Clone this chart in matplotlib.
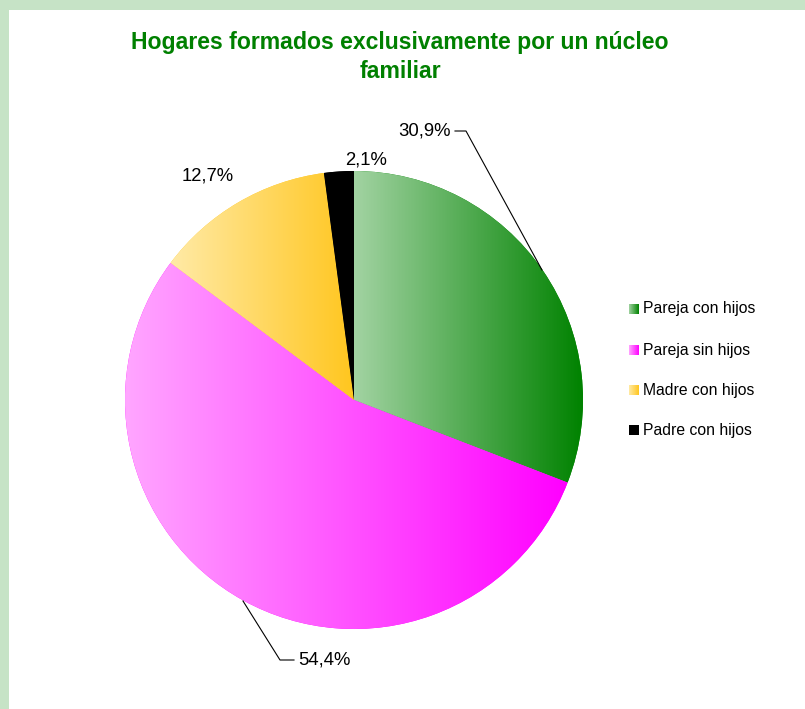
import numpy as np
import matplotlib
matplotlib.use("Agg")
import matplotlib.pyplot as plt
from matplotlib.colors import LinearSegmentedColormap
from matplotlib.patches import Rectangle

categories = ["Pareja con hijos", "Pareja sin hijos", "Madre con hijos", "Padre con hijos"]
values = [30.9, 54.4, 12.7, 2.1]
labels = ["30,9%", "54,4%", "12,7%", "2,1%"]
grad_colors = [("#a2d3a2", "#008200"), ("#ffa6ff", "#ff00ff"),
               ("#ffeaa6", "#ffc61e"), ("#000000", "#000000")]
title = "Hogares formados exclusivamente por un núcleo\nfamiliar"

plt.rcParams['font.family'] = ['Liberation Sans', 'DejaVu Sans']

W, H = 805, 709
fig = plt.figure(figsize=(W / 100, H / 100), dpi=100)
fig.patch.set_facecolor("#c6e3c6")
ax = fig.add_axes([9 / W, 0, (W - 9) / W, (H - 10) / H])
ax.set_facecolor("white")

cx, cy, r = 354 - 9, 309, 229
wedges, _ = ax.pie(values, center=(cx, cy), radius=r, startangle=90,
                   counterclock=False, frame=True,
                   wedgeprops=dict(linewidth=0))
ax.set_xlim(0, W - 9)
ax.set_ylim(0, H - 10)
ax.set_aspect('auto')
for s in ax.spines.values():
    s.set_visible(False)
ax.set_xticks([]); ax.set_yticks([])

grad = np.linspace(0, 1, 256).reshape(1, -1)
for w, (c0, c1) in zip(wedges, grad_colors):
    ext = w.get_path().get_extents()
    cmap = LinearSegmentedColormap.from_list("g", [c0, c1])
    w.set_facecolor(c1)
    im = ax.imshow(grad, cmap=cmap, aspect='auto',
                   extent=(ext.x0, ext.x1, ext.y0, ext.y1), zorder=2,
                   interpolation='bilinear')
    im.set_clip_path(w)

def P(x, y):
    return (x - 9, H - y)

fs = 13.3
# labels
ax.text(*P(424, 131), labels[0], fontsize=fs, ha='center', va='center', zorder=5)
ax.plot(*zip(P(455, 131), P(466, 131), P(542, 270)), color='black', lw=0.8, zorder=5)
ax.text(*P(324, 660), labels[1], fontsize=fs, ha='center', va='center', zorder=5)
ax.plot(*zip(P(294, 660), P(280, 660), P(243, 601)), color='black', lw=0.8, zorder=5)
ax.text(*P(208, 176), labels[2], fontsize=fs, ha='center', va='center', zorder=5)
ax.text(*P(366, 160), labels[3], fontsize=fs, ha='center', va='center', zorder=5)

# title
ax.text(*P(400, 57), title, fontsize=16.6, fontweight='bold', color='#008000',
        ha='center', va='center', linespacing=1.3, zorder=5)

# legend
leg_y = [309, 350, 390, 430]
for name, (c0, c1), ly in zip(categories, grad_colors, leg_y):
    x0, y0 = P(629, ly + 5)
    rect = Rectangle((x0, y0), 10, 10, facecolor='none', edgecolor='none')
    ax.add_patch(rect)
    cmap = LinearSegmentedColormap.from_list("g", [c0, c1])
    ax.imshow(grad, cmap=cmap, aspect='auto', extent=(x0, x0 + 10, y0, y0 + 10), zorder=3)
    ax.text(*P(643, ly), name, fontsize=11.3, ha='left', va='center', zorder=5)

ax.set_xlim(0, W - 9)
ax.set_ylim(0, H - 10)
fig.savefig("out.png", dpi=100, facecolor=fig.get_facecolor())
